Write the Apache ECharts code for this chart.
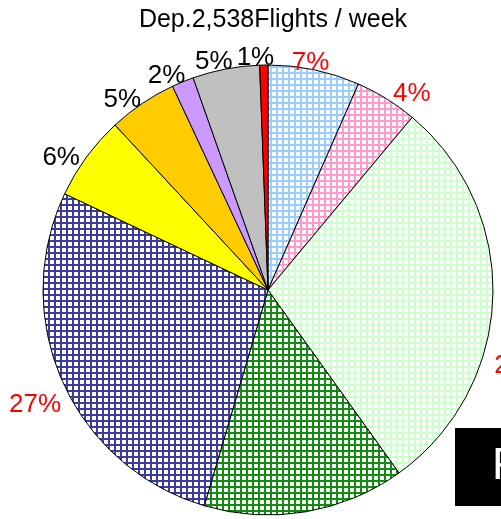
<!DOCTYPE html>
<html>
<head>
<meta charset="utf-8">
<script src="https://cdn.jsdelivr.net/npm/echarts@6/dist/echarts.min.js"></script>
<style>
  html, body { margin: 0; padding: 0; background: #fff; }
  #main { width: 501px; height: 519px; }
</style>
</head>
<body>
<div id="main"></div>
<script>
// data (slices clockwise from 12 o'clock)
var sliceNames = ['A', 'B', 'C', 'D', 'E', 'F', 'G', 'H', 'I', 'J'];
var flights = [167, 114, 737, 367, 697, 154, 125, 40, 122, 15];
var titleText = 'Dep.2,538Flights / week';

// slice fills: first five hatched, rest solid
var hatchColors = ['#99ccff', '#ff99cc', '#ccffcc', '#118c11', '#3c3ca0'];
var solidColors = ['#ffff00', '#ffcc00', '#cc99ff', '#c0c0c0', '#ff0000'];

function gridPattern(color) {
  var c = document.createElement('canvas');
  c.width = 6;
  c.height = 6;
  var g = c.getContext('2d');
  g.fillStyle = '#fff';
  g.fillRect(0, 0, 6, 6);
  g.fillStyle = color;
  g.fillRect(0, 0, 2, 6);
  g.fillRect(0, 0, 6, 2);
  return { image: c, repeat: 'repeat' };
}

var fills = hatchColors.map(gridPattern).concat(solidColors);

var pieData = flights.map(function (v, i) {
  return { name: sliceNames[i], value: v, itemStyle: { color: fills[i] } };
});
var labelData = flights.map(function (v, i) {
  return { name: sliceNames[i], value: v, label: { color: i < 5 ? '#ff0000' : '#000' } };
});

// small nudges to where the labels sat in the original
var labelShift = { 2: [6, 67], 1: [14, 13] };

var chart = echarts.init(document.getElementById('main'));

chart.setOption({
  animation: false,
  title: {
    text: titleText,
    left: 268,
    top: 3,
    textAlign: 'center',
    textStyle: { fontFamily: 'Liberation Sans', fontSize: 25, fontWeight: 'normal', color: '#000' }
  },
  series: [
    {
      type: 'pie',
      center: [268, 290],
      radius: 225,
      startAngle: 90,
      clockwise: true,
      silent: true,
      label: { show: false },
      labelLine: { show: false },
      itemStyle: { borderColor: '#000', borderWidth: 1 },
      emphasis: { disabled: true },
      data: pieData
    },
    {
      type: 'pie',
      center: [268, 290],
      radius: [225, 262],
      startAngle: 90,
      clockwise: true,
      silent: true,
      avoidLabelOverlap: false,
      itemStyle: { color: 'rgba(0,0,0,0)', borderWidth: 0 },
      label: {
        show: true,
        position: 'inside',
        fontFamily: 'Liberation Sans',
        fontSize: 26,
        formatter: function (p) { return Math.round(p.percent) + '%'; }
      },
      labelLine: { show: false },
      labelLayout: function (p) {
        var s = labelShift[p.dataIndex] || [-8, 14];
        return { dx: s[0], dy: s[1] };
      },
      emphasis: { disabled: true },
      data: labelData
    }
  ],
  graphic: [
    {
      type: 'rect',
      shape: { x: 455, y: 428, width: 60, height: 78 },
      style: { fill: '#000' }
    },
    {
      type: 'text',
      x: 492,
      y: 444,
      style: { text: 'F', fill: '#fff', font: '45px "Liberation Sans"' }
    }
  ]
});
</script>
</body>
</html>
